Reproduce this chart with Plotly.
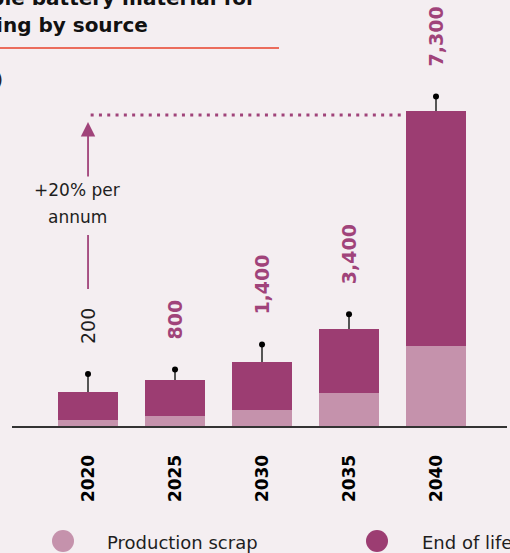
import plotly.graph_objects as go

# Supply by source, thousand tonnes per year
years = ["2020", "2025", "2030", "2035", "2040"]
production_scrap = [32, 48, 82, 165, 398]
end_of_life = [140, 180, 240, 322, 1175]
upper_range = [88, 55, 85, 72, 75]
# Capacity labels printed above each column
capacity_labels = [200, 800, 1400, 3400, 7300]

FONT = "DejaVu Sans"
BG = "#f4eef1"
SCRAP = "#c592ac"
EOL = "#9c3d72"
ACCENT = "#a0437a"
INK = "#1e1e1e"

totals = [a + b for a, b in zip(production_scrap, end_of_life)]
tips = [t + u for t, u in zip(totals, upper_range)]

W, H = 510, 553
ML, MR, MT, MB = 12, 3, 0, 127
plot_w = W - ML - MR
plot_h = H - MT - MB
Y_MAX = 2130


def px_x(px):
    return (px - ML) / plot_w


def px_y(py):
    return (MT + plot_h - py) / plot_h


def data_y(py):
    return (MT + plot_h - py) / plot_h * Y_MAX


fig = go.Figure()
fig.add_trace(go.Bar(x=years, y=production_scrap, name="Production scrap",
                     marker=dict(color=SCRAP, line=dict(width=0)), showlegend=False))
fig.add_trace(go.Bar(x=years, y=end_of_life, name="End of life",
                     marker=dict(color=EOL, line=dict(width=0)), showlegend=False,
                     error_y=dict(type="data", symmetric=False, array=upper_range,
                                  arrayminus=[0] * len(years), color="#555555",
                                  thickness=1.6, width=0)))
fig.add_trace(go.Scatter(x=years, y=tips, mode="markers", showlegend=False,
                         marker=dict(color="#000000", size=6), hoverinfo="skip"))

annotations = []
for i, (val, tip) in enumerate(zip(capacity_labels, tips)):
    first = i == 0
    annotations.append(dict(
        x=i, y=tip, xref="x", yref="y", text=f"{val:,}", showarrow=False,
        textangle=-90, yanchor="bottom", xanchor="center", yshift=28,
        font=dict(family=FONT, size=19, color=INK if first else ACCENT,
                  weight="normal" if first else "bold")))

# growth arrow and note
annotations.append(dict(x=0, y=data_y(122), xref="x", yref="y", ax=0, ay=56,
                        axref="pixel", ayref="pixel", text="", showarrow=True,
                        arrowhead=2, arrowsize=1.6, arrowwidth=1.8,
                        arrowcolor=ACCENT, standoff=0))
annotations.append(dict(x=px_x(77), y=px_y(190), xref="paper", yref="paper",
                        text="+20% per", showarrow=False, xanchor="center",
                        yanchor="middle", font=dict(family=FONT, size=17, color=INK)))
annotations.append(dict(x=px_x(77), y=px_y(217), xref="paper", yref="paper",
                        text="annum", showarrow=False, xanchor="center",
                        yanchor="middle", font=dict(family=FONT, size=17, color=INK)))

# title block
annotations.append(dict(x=px_x(258), y=px_y(-2), xref="paper", yref="paper",
                        text="Supply of recyclable battery material for",
                        showarrow=False, xanchor="right", yanchor="middle",
                        font=dict(family=FONT, size=20, color="#111111", weight="bold")))
annotations.append(dict(x=px_x(150), y=px_y(25), xref="paper", yref="paper",
                        text="recycling by source",
                        showarrow=False, xanchor="right", yanchor="middle",
                        font=dict(family=FONT, size=20, color="#111111", weight="bold")))
annotations.append(dict(x=px_x(5), y=px_y(80), xref="paper", yref="paper",
                        text="(GWh, 2020–2040)", showarrow=False, xanchor="right",
                        yanchor="middle", font=dict(family=FONT, size=17, color=INK)))

# legend
legend_items = [("Production scrap", SCRAP, 63, 105), ("End of life", EOL, 377, 420)]
shapes = []
for label, color, cx, tx in legend_items:
    shapes.append(dict(type="circle", xref="paper", yref="paper",
                       xsizemode="pixel", ysizemode="pixel",
                       xanchor=px_x(cx), yanchor=px_y(541),
                       x0=-11, x1=11, y0=-11, y1=11,
                       fillcolor=color, line=dict(width=0)))
    annotations.append(dict(x=px_x(tx), y=px_y(542), xref="paper", yref="paper",
                            text=label, showarrow=False, xanchor="left",
                            yanchor="middle", font=dict(family=FONT, size=18, color=INK)))

shapes.append(dict(type="line", xref="paper", yref="paper", x0=px_x(0), x1=px_x(279),
                   y0=px_y(48), y1=px_y(48), line=dict(color="#e8402a", width=1.5)))
shapes.append(dict(type="line", xref="x", yref="y", x0=0.03, x1=3.64,
                   y0=totals[-1] - 18, y1=totals[-1] - 18,
                   line=dict(color=ACCENT, width=3, dash="3px,5.3px")))
shapes.append(dict(type="line", xref="x", yref="y", x0=0, x1=0,
                   y0=data_y(289), y1=data_y(235),
                   line=dict(color=ACCENT, width=1.8)))

fig.update_layout(
    width=W, height=H, margin=dict(l=ML, r=MR, t=MT, b=MB),
    paper_bgcolor=BG, plot_bgcolor=BG, barmode="stack", bargap=0.3,
    showlegend=False, annotations=annotations, shapes=shapes,
    font=dict(family=FONT, color=INK),
    xaxis=dict(type="category", range=[-0.874, 4.816], showline=True,
               linecolor="#333333", linewidth=2, ticks="", tickangle=-90,
               ticklabelstandoff=20, showgrid=False, zeroline=False,
               tickfont=dict(family=FONT, size=17, color="#000000", weight="bold")),
    yaxis=dict(range=[0, Y_MAX], visible=False, showgrid=False, zeroline=False),
)

fig.write_html("out.html")
